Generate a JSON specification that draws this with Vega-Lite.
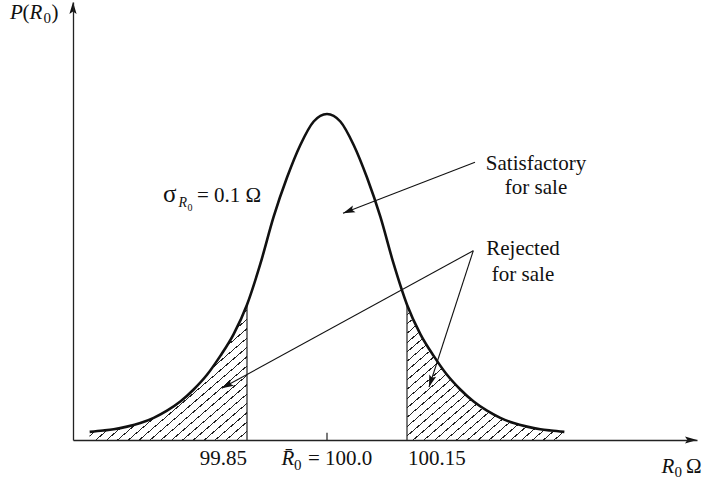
{
  "$schema": "https://vega.github.io/schema/vega-lite/v6.json",
  "width": 624,
  "height": 438,
  "autosize": {"type": "none"},
  "padding": {"left": 73, "top": 2, "right": 8, "bottom": 41},
  "background": "white",
  "config": {"view": {"stroke": null}, "text": {"font": "Liberation Serif", "color": "#111", "baseline": "alphabetic"}},
  "datasets": {
    "curve": [
      {"x": 99.555, "y": 0.10}, {"x": 99.58, "y": 0.116}, {"x": 99.6, "y": 0.132}, {"x": 99.625, "y": 0.164},
      {"x": 99.65, "y": 0.208}, {"x": 99.675, "y": 0.272}, {"x": 99.7, "y": 0.36}, {"x": 99.725, "y": 0.472},
      {"x": 99.75, "y": 0.62}, {"x": 99.775, "y": 0.80}, {"x": 99.8, "y": 1.032}, {"x": 99.825, "y": 1.30},
      {"x": 99.85, "y": 1.66}, {"x": 99.875, "y": 2.16}, {"x": 99.9, "y": 2.74}, {"x": 99.925, "y": 3.22},
      {"x": 99.95, "y": 3.62}, {"x": 99.975, "y": 3.908}, {"x": 100, "y": 4.0}, {"x": 100.025, "y": 3.908},
      {"x": 100.05, "y": 3.62}, {"x": 100.075, "y": 3.22}, {"x": 100.1, "y": 2.74}, {"x": 100.125, "y": 2.16},
      {"x": 100.15, "y": 1.66}, {"x": 100.175, "y": 1.30}, {"x": 100.2, "y": 1.032}, {"x": 100.225, "y": 0.80},
      {"x": 100.25, "y": 0.62}, {"x": 100.275, "y": 0.472}, {"x": 100.3, "y": 0.36}, {"x": 100.325, "y": 0.272},
      {"x": 100.35, "y": 0.208}, {"x": 100.375, "y": 0.164}, {"x": 100.4, "y": 0.132}, {"x": 100.42, "y": 0.116},
      {"x": 100.445, "y": 0.10}
    ],
    "cuts": [
      {"x": 99.85, "y": 1.66}, {"x": 100.15, "y": 1.66}, {"x": 100.0, "y": 0.09}
    ],
    "arrows": [
      {"name": "sat", "x": 100.2775, "y": 3.4074, "x2": 100.03, "y2": 2.7816},
      {"name": "rejL", "x": 100.2743, "y": 2.3227, "x2": 99.8026, "y2": 0.6344},
      {"name": "rejR", "x": 100.2743, "y": 2.3227, "x2": 100.1913, "y2": 0.6503}
    ],
    "axisEnds": [
      {"name": "xend", "x": 100.69375, "y": 0},
      {"name": "yend", "x": 99.52375, "y": 5.3742}
    ],
    "labReg": [
      {"text": "(", "x": 99.4291, "y": 5.1595},
      {"text": ")", "x": 99.4834, "y": 5.1595},
      {"text": "= 0.1 Ω", "x": 99.7563, "y": 2.9239},
      {"text": "= 100.0", "x": 99.9644, "y": -0.30675},
      {"text": "100.15", "x": 100.1519, "y": -0.30675},
      {"text": "Ω", "x": 100.6731, "y": -0.4049}
    ],
    "labSigma": [
      {"text": "σ", "x": 99.6925, "y": 2.9239}
    ],
    "labRight": [
      {"text": "99.85", "x": 99.85, "y": -0.30675}
    ],
    "labCenter": [
      {"text": "Satisfactory", "x": 100.3919, "y": 3.3129},
      {"text": "for sale", "x": 100.3919, "y": 3.0184},
      {"text": "Rejected", "x": 100.3675, "y": 2.27},
      {"text": "for sale", "x": 100.3675, "y": 1.9448}
    ],
    "labItalic": [
      {"text": "P", "x": 99.4056, "y": 5.1595},
      {"text": "R", "x": 99.4422, "y": 5.1595},
      {"text": "R̄", "x": 99.9147, "y": -0.30675},
      {"text": "R", "x": 100.6272, "y": -0.4049}
    ],
    "labSub": [
      {"text": "0", "x": 99.4684, "y": 5.1166},
      {"text": "0", "x": 99.9381, "y": -0.3681},
      {"text": "0", "x": 100.6516, "y": -0.4479}
    ],
    "labItalicSmall": [
      {"text": "R", "x": 99.72156, "y": 2.865}
    ],
    "labSubSub": [
      {"text": "0", "x": 99.73844, "y": 2.8098}
    ]
  },
  "encoding": {
    "x": {"field": "x", "type": "quantitative",
      "scale": {"domain": [99.52375, 100.69375], "nice": false, "zero": false},
      "axis": {"domain": true, "ticks": false, "labels": false, "grid": false, "title": null, "domainColor": "#222", "domainWidth": 1.3, "zindex": 1}},
    "y": {"field": "y", "type": "quantitative",
      "scale": {"domain": [0, 5.3742], "nice": false, "zero": false},
      "axis": {"domain": true, "ticks": false, "labels": false, "grid": false, "title": null, "domainColor": "#222", "domainWidth": 1.3, "zindex": 1}}
  },
  "layer": [
    {
      "data": {"name": "curve"},
      "transform": [
        {"filter": "datum.x <= 99.8501 || datum.x >= 100.1499"},
        {"calculate": "datum.x < 100 ? 'L' : 'R'", "as": "side"}
      ],
      "mark": {"type": "area", "interpolate": "monotone", "opacity": 1,
        "fill": {"gradient": "linear", "x1": 0, "y1": 0, "x2": 1, "y2": 1, "stops": [
          {"offset": 0, "color": "#222"}, {"offset": 0.0045, "color": "#222"}, {"offset": 0.0045, "color": "#fff"},
          {"offset": 0.0345, "color": "#fff"}, {"offset": 0.0345, "color": "#222"}, {"offset": 0.039, "color": "#222"}, {"offset": 0.039, "color": "#fff"},
          {"offset": 0.069, "color": "#fff"}, {"offset": 0.069, "color": "#222"}, {"offset": 0.0735, "color": "#222"}, {"offset": 0.0735, "color": "#fff"},
          {"offset": 0.1034, "color": "#fff"}, {"offset": 0.1034, "color": "#222"}, {"offset": 0.1079, "color": "#222"}, {"offset": 0.1079, "color": "#fff"},
          {"offset": 0.1379, "color": "#fff"}, {"offset": 0.1379, "color": "#222"}, {"offset": 0.1424, "color": "#222"}, {"offset": 0.1424, "color": "#fff"},
          {"offset": 0.1724, "color": "#fff"}, {"offset": 0.1724, "color": "#222"}, {"offset": 0.1769, "color": "#222"}, {"offset": 0.1769, "color": "#fff"},
          {"offset": 0.2069, "color": "#fff"}, {"offset": 0.2069, "color": "#222"}, {"offset": 0.2114, "color": "#222"}, {"offset": 0.2114, "color": "#fff"},
          {"offset": 0.2414, "color": "#fff"}, {"offset": 0.2414, "color": "#222"}, {"offset": 0.2459, "color": "#222"}, {"offset": 0.2459, "color": "#fff"},
          {"offset": 0.2759, "color": "#fff"}, {"offset": 0.2759, "color": "#222"}, {"offset": 0.2804, "color": "#222"}, {"offset": 0.2804, "color": "#fff"},
          {"offset": 0.3103, "color": "#fff"}, {"offset": 0.3103, "color": "#222"}, {"offset": 0.3148, "color": "#222"}, {"offset": 0.3148, "color": "#fff"},
          {"offset": 0.3448, "color": "#fff"}, {"offset": 0.3448, "color": "#222"}, {"offset": 0.3493, "color": "#222"}, {"offset": 0.3493, "color": "#fff"},
          {"offset": 0.3793, "color": "#fff"}, {"offset": 0.3793, "color": "#222"}, {"offset": 0.3838, "color": "#222"}, {"offset": 0.3838, "color": "#fff"},
          {"offset": 0.4138, "color": "#fff"}, {"offset": 0.4138, "color": "#222"}, {"offset": 0.4183, "color": "#222"}, {"offset": 0.4183, "color": "#fff"},
          {"offset": 0.4483, "color": "#fff"}, {"offset": 0.4483, "color": "#222"}, {"offset": 0.4528, "color": "#222"}, {"offset": 0.4528, "color": "#fff"},
          {"offset": 0.4828, "color": "#fff"}, {"offset": 0.4828, "color": "#222"}, {"offset": 0.4873, "color": "#222"}, {"offset": 0.4873, "color": "#fff"},
          {"offset": 0.5172, "color": "#fff"}, {"offset": 0.5172, "color": "#222"}, {"offset": 0.5217, "color": "#222"}, {"offset": 0.5217, "color": "#fff"},
          {"offset": 0.5517, "color": "#fff"}, {"offset": 0.5517, "color": "#222"}, {"offset": 0.5562, "color": "#222"}, {"offset": 0.5562, "color": "#fff"},
          {"offset": 0.5862, "color": "#fff"}, {"offset": 0.5862, "color": "#222"}, {"offset": 0.5907, "color": "#222"}, {"offset": 0.5907, "color": "#fff"},
          {"offset": 0.6207, "color": "#fff"}, {"offset": 0.6207, "color": "#222"}, {"offset": 0.6252, "color": "#222"}, {"offset": 0.6252, "color": "#fff"},
          {"offset": 0.6552, "color": "#fff"}, {"offset": 0.6552, "color": "#222"}, {"offset": 0.6597, "color": "#222"}, {"offset": 0.6597, "color": "#fff"},
          {"offset": 0.6897, "color": "#fff"}, {"offset": 0.6897, "color": "#222"}, {"offset": 0.6942, "color": "#222"}, {"offset": 0.6942, "color": "#fff"},
          {"offset": 0.7241, "color": "#fff"}, {"offset": 0.7241, "color": "#222"}, {"offset": 0.7286, "color": "#222"}, {"offset": 0.7286, "color": "#fff"},
          {"offset": 0.7586, "color": "#fff"}, {"offset": 0.7586, "color": "#222"}, {"offset": 0.7631, "color": "#222"}, {"offset": 0.7631, "color": "#fff"},
          {"offset": 0.7931, "color": "#fff"}, {"offset": 0.7931, "color": "#222"}, {"offset": 0.7976, "color": "#222"}, {"offset": 0.7976, "color": "#fff"},
          {"offset": 0.8276, "color": "#fff"}, {"offset": 0.8276, "color": "#222"}, {"offset": 0.8321, "color": "#222"}, {"offset": 0.8321, "color": "#fff"},
          {"offset": 0.8621, "color": "#fff"}, {"offset": 0.8621, "color": "#222"}, {"offset": 0.8666, "color": "#222"}, {"offset": 0.8666, "color": "#fff"},
          {"offset": 0.8966, "color": "#fff"}, {"offset": 0.8966, "color": "#222"}, {"offset": 0.9011, "color": "#222"}, {"offset": 0.9011, "color": "#fff"},
          {"offset": 0.931, "color": "#fff"}, {"offset": 0.931, "color": "#222"}, {"offset": 0.9355, "color": "#222"}, {"offset": 0.9355, "color": "#fff"},
          {"offset": 0.9655, "color": "#fff"}, {"offset": 0.9655, "color": "#222"}, {"offset": 0.97, "color": "#222"}, {"offset": 0.97, "color": "#fff"},
          {"offset": 1, "color": "#fff"}
        ]}},
      "encoding": {
        "y": {"field": "y", "type": "quantitative", "stack": null,
          "scale": {"domain": [0, 5.3742], "nice": false, "zero": false},
          "axis": {"domain": true, "ticks": false, "labels": false, "grid": false, "title": null, "domainColor": "#222", "domainWidth": 1.3, "zindex": 1}},
        "detail": {"field": "side", "type": "nominal"}
      }
    },
    {
      "data": {"name": "cuts"},
      "mark": {"type": "rule", "stroke": "#222", "strokeWidth": 1.2},
      "encoding": {"y2": {"datum": 0}}
    },
    {
      "data": {"name": "curve"},
      "mark": {"type": "line", "interpolate": "monotone", "stroke": "#111", "strokeWidth": 2.6}
    },
    {
      "data": {"name": "arrows"},
      "mark": {"type": "rule", "stroke": "#111", "strokeWidth": 1.1},
      "encoding": {"x2": {"field": "x2"}, "y2": {"field": "y2"}}
    },
    {
      "data": {"name": "arrows"},
      "transform": [{"filter": "datum.name == 'sat'"}],
      "mark": {"type": "point", "shape": "M0,0L-1,-0.3L-0.8,0L-1,0.3Z", "size": 576, "filled": true, "fill": "#111", "strokeWidth": 0, "opacity": 1, "angle": 158.9},
      "encoding": {"x": {"field": "x2", "type": "quantitative"}, "y": {"field": "y2", "type": "quantitative"}}
    },
    {
      "data": {"name": "arrows"},
      "transform": [{"filter": "datum.name == 'rejL'"}],
      "mark": {"type": "point", "shape": "M0,0L-1,-0.3L-0.8,0L-1,0.3Z", "size": 576, "filled": true, "fill": "#111", "strokeWidth": 0, "opacity": 1, "angle": 151.3},
      "encoding": {"x": {"field": "x2", "type": "quantitative"}, "y": {"field": "y2", "type": "quantitative"}}
    },
    {
      "data": {"name": "arrows"},
      "transform": [{"filter": "datum.name == 'rejR'"}],
      "mark": {"type": "point", "shape": "M0,0L-1,-0.3L-0.8,0L-1,0.3Z", "size": 576, "filled": true, "fill": "#111", "strokeWidth": 0, "opacity": 1, "angle": 108.0},
      "encoding": {"x": {"field": "x2", "type": "quantitative"}, "y": {"field": "y2", "type": "quantitative"}}
    },
    {
      "data": {"name": "axisEnds"},
      "transform": [{"filter": "datum.name == 'xend'"}],
      "mark": {"type": "point", "shape": "M0,0L-1,-0.3L-0.8,0L-1,0.3Z", "size": 576, "filled": true, "fill": "#111", "strokeWidth": 0, "opacity": 1, "angle": 0}
    },
    {
      "data": {"name": "axisEnds"},
      "transform": [{"filter": "datum.name == 'yend'"}],
      "mark": {"type": "point", "shape": "M0,0L-1,-0.3L-0.8,0L-1,0.3Z", "size": 576, "filled": true, "fill": "#111", "strokeWidth": 0, "opacity": 1, "angle": -90}
    },
    {
      "data": {"name": "labReg"},
      "mark": {"type": "text", "align": "left", "fontSize": 21},
      "encoding": {"text": {"field": "text"}}
    },
    {
      "data": {"name": "labSigma"},
      "mark": {"type": "text", "align": "left", "fontSize": 25},
      "encoding": {"text": {"field": "text"}}
    },
    {
      "data": {"name": "labRight"},
      "mark": {"type": "text", "align": "right", "fontSize": 21},
      "encoding": {"text": {"field": "text"}}
    },
    {
      "data": {"name": "labCenter"},
      "mark": {"type": "text", "align": "center", "fontSize": 21},
      "encoding": {"text": {"field": "text"}}
    },
    {
      "data": {"name": "labItalic"},
      "mark": {"type": "text", "align": "left", "fontSize": 21, "fontStyle": "italic"},
      "encoding": {"text": {"field": "text"}}
    },
    {
      "data": {"name": "labSub"},
      "mark": {"type": "text", "align": "left", "fontSize": 15},
      "encoding": {"text": {"field": "text"}}
    },
    {
      "data": {"name": "labItalicSmall"},
      "mark": {"type": "text", "align": "left", "fontSize": 14, "fontStyle": "italic"},
      "encoding": {"text": {"field": "text"}}
    },
    {
      "data": {"name": "labSubSub"},
      "mark": {"type": "text", "align": "left", "fontSize": 10},
      "encoding": {"text": {"field": "text"}}
    }
  ]
}
